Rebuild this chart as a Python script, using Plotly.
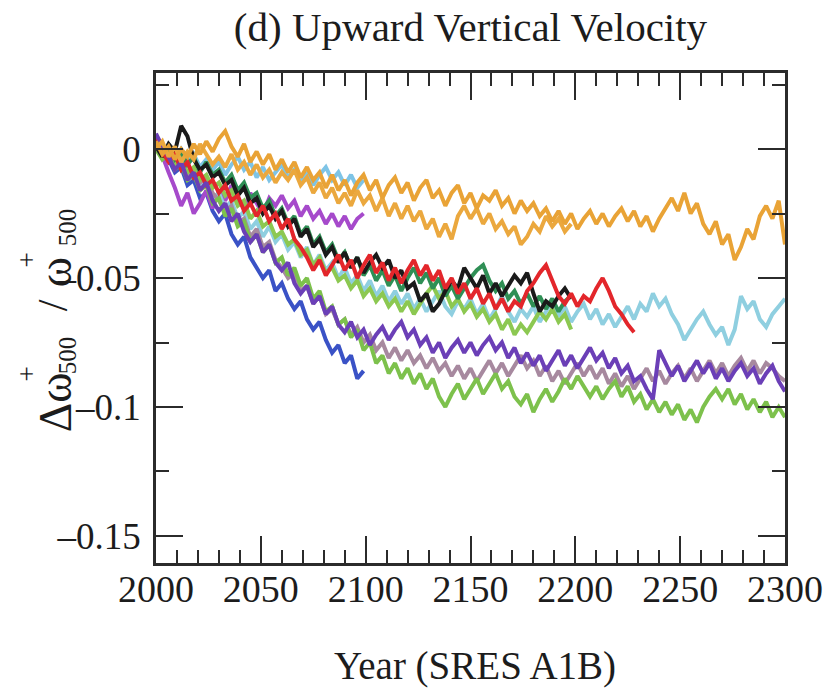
import numpy as np
import plotly.graph_objects as go

# Fractional change of 500 hPa upward velocity, in thousandths, sampled every 3 years from 2000.
ORANGE_A = [3, -2, 1, -4, 0, -3, 2, -2, 3, -1,
            4, 7, 1, -3, 2, -5, -1, -6, -2, -8,
            -4, -9, -5, -11, -7, -12, -9, -15, -10, -16,
            -12, -18, -13, -10, -16, -12, -19, -14, -11, -17,
            -13, -20, -15, -12, -19, -16, -22, -17, -14, -21,
            -17, -23, -18, -20, -16, -22, -19, -25, -20, -24,
            -21, -26, -23, -28, -24, -29, -25, -31, -27, -24,
            -29, -25, -30, -26, -23, -28, -24, -30, -26, -32,
            -27, -23, -19, -24, -17, -25, -21, -29, -33, -28,
            -37, -33, -43, -38, -31, -35, -26, -22, -27, -20,
            -37]
ORANGE_B = [0, 3, -3, 1, -5, -1, -4, 2, -2, -6,
            -3, -7, -2, -8, -5, -10, -6, -11, -8, -13,
            -9, -12, -8, -14, -11, -17, -13, -19, -15, -21,
            -17, -22, -16, -21, -18, -24, -19, -26, -21, -27,
            -22, -28, -24, -31, -27, -34, -29, -35, -26, -22,
            -27, -23, -29, -25, -31, -28, -33, -30, -37, -34,
            -29, -32, -26, -30, -27, -32, -29]
CYAN = [2, -3, -1, -7, -5, -11, -8, -14, -12, -19,
        -17, -23, -20, -27, -24, -31, -28, -34, -30, -36,
        -33, -39, -36, -42, -38, -45, -41, -47, -44, -50,
        -46, -52, -49, -55, -51, -57, -53, -59, -55, -60,
        -56, -62, -58, -63, -59, -55, -61, -64, -59, -62,
        -58, -64, -60, -66, -62, -57, -63, -67, -62, -65,
        -61, -67, -63, -59, -65, -61, -67, -63, -60, -66,
        -62, -68, -64, -69, -65, -61, -66, -60, -63, -56,
        -61, -58, -64, -68, -74, -70, -66, -63, -68, -72,
        -69, -76, -70, -57, -62, -59, -66, -69, -64, -61,
        -58]
SKYBLUE = [1, -2, 2, -3, 0, -5, -2, -7, -4, -8,
           -5, -10, -6, -3, -8, -5, -11, -7, -12, -9,
           -6, -11, -8, -13, -9, -14, -10, -7, -12, -9,
           -14, -10, -15, -12]
RED = [4, -1, -5, -2, -8, -5, -11, -9, -14, -12,
       -17, -14, -20, -18, -24, -21, -26, -22, -28, -25,
       -31, -27, -35, -38, -42, -47, -43, -49, -45, -41,
       -47, -43, -50, -45, -41, -48, -44, -51, -46, -52,
       -47, -43, -49, -45, -51, -47, -54, -50, -56, -52,
       -58, -54, -60, -56, -62, -58, -63, -59, -61, -55,
       -52, -48, -45, -51, -57, -60, -56, -61, -57, -59,
       -54, -50, -55, -61, -64, -68, -71]
BLACK = [1, -3, 2, -1, 9, 5, -4, -8, -6, -11,
         -9, -14, -12, -18, -15, -21, -19, -25, -22, -27,
         -24, -30, -27, -34, -31, -38, -35, -41, -38, -44,
         -40, -46, -42, -48, -44, -41, -46, -43, -50, -47,
         -54, -52, -59, -56, -63, -60, -55, -51, -54, -46,
         -50, -54, -49, -56, -52, -57, -53, -49, -52, -48,
         -56, -63, -59, -61, -57, -54, -58]
DKGREEN = [2, -2, 1, -4, -1, -6, -3, -9, -5, -10,
           -8, -13, -10, -16, -13, -19, -17, -23, -20, -26,
           -23, -29, -26, -33, -30, -37, -34, -40, -37, -43,
           -40, -46, -42, -49, -45, -51, -47, -53, -49, -55,
           -50, -46, -52, -48, -54, -50, -57, -53, -58, -54,
           -50, -47, -45, -51, -55, -52, -58, -55, -60, -56,
           -61, -57, -62, -58, -63, -59, -57]
LTGREEN_A = [0, -4, -2, -8, -6, -12, -10, -16, -14, -21,
             -19, -26, -23, -30, -28, -36, -33, -40, -37, -44,
             -42, -49, -46, -53, -50, -58, -55, -63, -61, -68,
             -66, -73, -70, -78, -75, -83, -80, -87, -83, -89,
             -85, -91, -87, -93, -89, -96, -100, -95, -91, -97,
             -93, -89, -95, -91, -87, -93, -90, -96, -99, -95,
             -102, -97, -93, -98, -94, -89, -93, -88, -92, -96,
             -92, -97, -93, -90, -96, -92, -98, -95, -101, -97,
             -102, -98, -103, -99, -105, -101, -106, -100, -96, -93,
             -97, -93, -99, -95, -101, -97, -102, -98, -104, -100,
             -104]
LTGREEN_B = [1, -3, -1, -6, -4, -9, -7, -12, -10, -15,
             -13, -18, -16, -22, -20, -27, -24, -30, -28, -34,
             -32, -37, -35, -41, -39, -45, -42, -48, -46, -51,
             -49, -54, -51, -57, -54, -59, -56, -61, -58, -63,
             -59, -64, -60, -56, -53, -58, -55, -61, -58, -63,
             -60, -65, -62, -67, -64, -70, -66, -72, -68, -71,
             -67, -63, -66, -62, -67, -64, -70]
PURPLE = [6, 1, -3, -8, -5, -12, -9, -16, -13, -20,
          -24, -21, -28, -25, -32, -36, -33, -40, -37, -44,
          -47, -44, -52, -56, -53, -60, -57, -64, -61, -68,
          -71, -67, -73, -70, -76, -72, -69, -74, -70, -67,
          -73, -70, -76, -73, -79, -75, -81, -77, -74, -79,
          -75, -80, -76, -73, -78, -75, -81, -77, -83, -79,
          -84, -80, -86, -82, -78, -84, -80, -85, -81, -77,
          -82, -79, -85, -81, -87, -84, -90, -88, -93, -97,
          -78, -83, -88, -84, -90, -86, -82, -87, -83, -89,
          -85, -90, -86, -83, -88, -85, -91, -87, -84, -90,
          -94]
MAUVE = [2, -3, 0, -6, -4, -10, -8, -13, -11, -17,
         -20, -24, -22, -29, -27, -34, -31, -38, -36, -43,
         -46, -50, -48, -55, -53, -60, -57, -64, -62, -68,
         -66, -72, -69, -75, -72, -78, -75, -81, -77, -82,
         -78, -83, -80, -85, -81, -86, -83, -88, -84, -89,
         -85, -90, -86, -82, -87, -83, -88, -84, -80, -85,
         -82, -88, -84, -90, -86, -91, -87, -83, -88, -84,
         -89, -85, -91, -87, -92, -88, -93, -89, -85, -90,
         -86, -91, -87, -84, -89, -85, -90, -86, -82, -87,
         -83, -88, -84, -81, -86, -82, -87, -83, -85, -88,
         -90]
BLUE = [5, -1, -4, -9, -7, -14, -12, -19, -17, -24,
        -28, -25, -33, -37, -34, -42, -46, -50, -47, -55,
        -52, -58, -62, -59, -66, -70, -67, -74, -79, -76,
        -83, -80, -89, -86]
MAGENTA = [4, -3, -9, -15, -22, -17, -25, -21, -16, -23,
           -16, -20, -14, -19, -23, -17, -21, -25, -19, -22,
           -18, -23, -20, -26, -22, -27, -24, -29, -25, -30,
           -26, -31, -27, -25]

START_YEAR = 2000
STEP = 3

# drawing order: first listed ends up underneath
SERIES = [
    (BLUE, "#3a52c6"),
    (MAGENTA, "#a64acb"),
    (SKYBLUE, "#7ec4e6"),
    (CYAN, "#8fcfe0"),
    (MAUVE, "#a7899f"),
    (LTGREEN_A, "#7dc14c"),
    (LTGREEN_B, "#8cc851"),
    (DKGREEN, "#2f8f55"),
    (BLACK, "#1a1a1a"),
    (RED, "#e3262b"),
    (PURPLE, "#6b3fb7"),
    (ORANGE_B, "#eba83e"),
    (ORANGE_A, "#e9a336"),
]

FONT = "'Liberation Serif', 'Times New Roman', Times, serif"
AXIS = "#2b2b2b"
TXT = "#1c1c1c"

fig = go.Figure()
for vals, col in SERIES:
    years = [START_YEAR + STEP * i for i in range(len(vals))]
    fig.add_trace(go.Scatter(
        x=years, y=np.array(vals) / 1000.0, mode="lines",
        line=dict(color=col, width=4), showlegend=False, hoverinfo="skip"))

L, R, T, B = 156, 48, 73, 130
W, H = 835, 693
pw, ph = W - L - R, H - T - B

fig.update_layout(
    width=W, height=H,
    margin=dict(l=L, r=R, t=T, b=B),
    paper_bgcolor="white", plot_bgcolor="white",
    font=dict(family=FONT, size=37, color=TXT),
    showlegend=False,
    title=dict(text="(d) Upward Vertical Velocity", x=0.5, xref="paper",
               y=1 - 27 / H, yref="container", yanchor="middle", xanchor="center",
               font=dict(family=FONT, size=41, color=TXT)),
)

fig.update_xaxes(
    range=[2000, 2300],
    tickvals=[2000, 2050, 2100, 2150, 2200, 2250, 2300],
    ticktext=["2000", "2050", "2100", "2150", "2200", "2250", "2300"],
    ticks="inside", ticklen=27, tickwidth=2.2, tickcolor=AXIS,
    showline=True, linecolor=AXIS, linewidth=2.5, mirror="ticks",
    showgrid=False, zeroline=False,
    minor=dict(tick0=2000, dtick=10, ticks="inside", ticklen=13,
               tickwidth=2.2, tickcolor=AXIS, showgrid=False),
    tickfont=dict(family=FONT, size=38, color=TXT),
    ticklabelstandoff=-9,
)
fig.update_yaxes(
    range=[-0.1605, 0.0295],
    tickvals=[0, -0.05, -0.1, -0.15],
    ticktext=["0", "\u20130.05", "\u20130.1", "\u20130.15"],
    ticks="inside", ticklen=27, tickwidth=2.2, tickcolor=AXIS,
    showline=True, linecolor=AXIS, linewidth=2.5, mirror="ticks",
    showgrid=False, zeroline=False,
    minor=dict(tick0=0, dtick=0.025, ticks="inside", ticklen=13,
               tickwidth=2.2, tickcolor=AXIS, showgrid=False),
    tickfont=dict(family=FONT, size=37, color=TXT),
    ticklabelstandoff=5,
)


def px_to_paper(xp, yp):
    return (xp - L) / pw, (H - B - yp) / ph


annotations = []
xa, ya = px_to_paper(476, 666)
annotations.append(dict(text="Year (SRES A1B)", x=xa, y=ya, xref="paper", yref="paper",
                        showarrow=False, xanchor="center", yanchor="middle",
                        font=dict(family=FONT, size=39, color=TXT)))

# rotated y label, built from pieces so the + sits above the 500
ylabel_parts = [
    ("\u0394\u03c9", 55, 402, 46),
    ("+", 27, 374, 27),
    ("500", 67, 355, 25),
    ("/", 53, 305, 42),
    ("\u03c9", 55, 272, 46),
    ("+", 27, 260, 27),
    ("500", 67, 227, 25),
]
for txt, xp, yp, fs in ylabel_parts:
    xa, ya = px_to_paper(xp, yp)
    annotations.append(dict(text=txt, x=xa, y=ya, xref="paper", yref="paper",
                            showarrow=False, textangle=-90,
                            xanchor="center", yanchor="middle",
                            font=dict(family=FONT, size=fs, color=TXT)))
fig.update_layout(annotations=annotations)

fig.write_html("out.html")
